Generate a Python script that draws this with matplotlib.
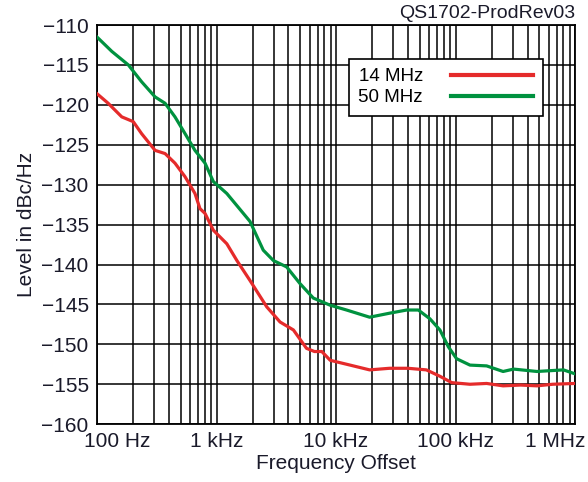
import numpy as np
import matplotlib
matplotlib.use("Agg")
import matplotlib.pyplot as plt
from matplotlib.ticker import LogLocator, NullFormatter, FixedLocator, FixedFormatter
from matplotlib.transforms import ScaledTranslation

plt.rcParams['font.family'] = ['Liberation Sans', 'DejaVu Sans']

# 14 MHz carrier (red)
f_14 = [100, 124, 161, 201, 236, 306, 371, 449, 545, 660, 727, 801, 940, 1219, 1480,
        1905, 2630, 3400, 4400, 5660, 6600, 7600, 8940, 13100, 19100, 28000, 40000,
        57000, 74000, 93000, 132000, 182000, 250000, 350000, 480000, 650000, 1000000]
lvl_14 = [-118.6, -119.8, -121.5, -122.1, -123.6, -125.7, -126.1, -127.3, -129.0, -131.1,
          -133.0, -133.6, -135.7, -137.4, -139.5, -142.0, -145.3, -147.2, -148.2, -150.5,
          -150.9, -150.9, -152.0, -152.6, -153.2, -153.0, -153.0, -153.2, -154.0, -154.8,
          -155.0, -154.9, -155.2, -155.1, -155.2, -155.0, -154.9]

# 50 MHz carrier (green)
f_50 = [100, 133, 183, 236, 306, 371, 449, 545, 660, 801, 940, 1219, 1905, 2460, 2990,
        3860, 5000, 6450, 8940, 12250, 19100, 28000, 39000, 48800, 61000, 74000, 87000,
        102000, 132000, 182000, 250000, 306000, 480000, 800000, 1000000]
lvl_50 = [-111.5, -113.3, -115.0, -117.1, -119.0, -119.8, -121.5, -123.6, -125.7, -127.3,
          -129.6, -131.1, -134.6, -138.2, -139.5, -140.3, -142.4, -144.2, -145.1, -145.7,
          -146.6, -146.1, -145.7, -145.7, -146.8, -148.2, -150.3, -151.8, -152.6, -152.7,
          -153.4, -153.1, -153.4, -153.2, -153.7]

x_ticks = [100, 1000, 10000, 100000, 1000000]
x_labels = ["100 Hz", "1 kHz", "10 kHz", "100 kHz", "1 MHz"]
y_ticks = list(range(-160, -109, 5))

fig = plt.figure(figsize=(5.88, 4.82), dpi=100)
ax = fig.add_axes([0.165, 0.120, 0.813, 0.828])

ax.semilogx(f_14, lvl_14, color="#e52b2b", lw=2.3, label="14 MHz", zorder=3)
ax.semilogx(f_50, lvl_50, color="#00923f", lw=2.3, label="50 MHz", zorder=3)

ax.set_xlim(100, 1e6)
ax.set_ylim(-160, -110)

ax.xaxis.set_major_locator(FixedLocator(x_ticks))
ax.xaxis.set_major_formatter(FixedFormatter(x_labels))
ax.xaxis.set_minor_locator(LogLocator(base=10, subs=np.arange(2, 10)))
ax.xaxis.set_minor_formatter(NullFormatter())
ax.set_yticks(y_ticks)
ax.set_yticklabels(["\u2212%d" % abs(v) for v in y_ticks])

ax.grid(which="both", axis="x", color="black", lw=1.1)
ax.grid(which="major", axis="y", color="black", lw=1.1)
ax.tick_params(which="both", direction="in", length=0, labelsize=15,
               labelcolor="#1a1a2a", pad=6)
for s in ax.spines.values():
    s.set_linewidth(1.3)

# shift edge tick labels inward like the original
labels = ax.get_xticklabels()
labels[0].set_transform(labels[0].get_transform() + ScaledTranslation(0.2, 0, fig.dpi_scale_trans))
labels[-1].set_transform(labels[-1].get_transform() + ScaledTranslation(-0.2, 0, fig.dpi_scale_trans))

ax.set_xlabel("Frequency Offset", fontsize=15, color="#1a1a2a", labelpad=2)
ax.set_ylabel("Level in dBc/Hz", fontsize=15, color="#1a1a2a", labelpad=4)

leg = ax.legend(loc="upper left", bbox_to_anchor=(0.527, 0.915), borderaxespad=0,
                markerfirst=False, fontsize=13.5, handlelength=4.4, fancybox=False,
                framealpha=1, edgecolor="black", borderpad=0.5, labelspacing=0.2,
                handletextpad=1.5)
leg.get_frame().set_linewidth(1.2)
for line in leg.get_lines():
    line.set_linewidth(3)

fig.text(575 / 588, 1 - 13 / 482, "QS1702-ProdRev03", ha="right", va="center",
         fontsize=14, color="#1a1a2a")

fig.savefig("out.png", dpi=100)
